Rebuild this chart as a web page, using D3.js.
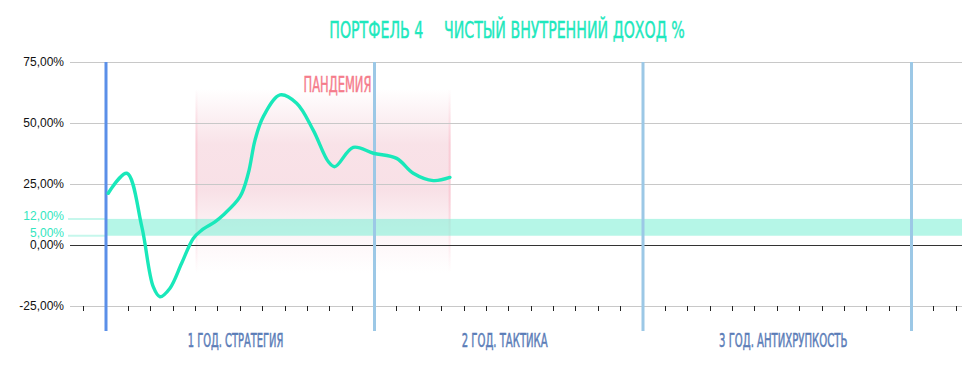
<!DOCTYPE html>
<html><head><meta charset="utf-8">
<script src="https://cdn.jsdelivr.net/npm/d3@7"></script>
<style>body{margin:0;background:#fff}svg{display:block}</style>
</head><body>
<svg id="c" width="962" height="371"></svg>
<script>
// ---- data ----
const months = [0.10,0.93,1.60,2.11,2.41,2.86,3.38,3.90,4.28,4.87,5.24,5.99,6.36,6.66,7.03,7.78,8.52,9.26,9.94,10.23,11.05,11.95,12.99,13.73,14.63,15.37];
const values = [21.2,29.4,7.5,-17.1,-21.2,-17.7,-7.5,2.7,6.1,9.5,12.3,19.8,29.4,43.0,52.6,61.5,58.1,47.1,34.1,32.1,40.0,37.6,35.5,29.4,26.4,27.7];
const yTicks = [75, 50, 25, 0, -25];
const yTickLabels = ["75,00%", "50,00%", "25,00%", "0,00%", "-25,00%"];
const bandEdges = [10.7, 3.8];
const bandLabels = ["12,00%", "5,00%"];
const yearBounds = [0, 12, 24, 36];
const yearLabels = ["1 ГОД. СТРАТЕГИЯ", "2 ГОД. ТАКТИКА", "3 ГОД. АНТИХРУПКОСТЬ"];
const pandemicMonths = [4, 15.4];
const pandemicValues = [64, -11.5];
const pandemicLabel = "ПАНДЕМИЯ";
const titleParts = ["ПОРТФЕЛЬ 4", "ЧИСТЫЙ ВНУТРЕННИЙ ДОХОД %"];
const monthTicks = d3.range(-1, 39);

// ---- scales ----
const svg = d3.select("#c");
const x = d3.scaleLinear().domain([0, 12]).range([106, 374.5]);
const y = d3.scaleLinear().domain([0, 25]).range([245, 184]);
const left = 70, right = 962;
const cond = "'DejaVu Sans Condensed','Liberation Sans Narrow',sans-serif";

// condensed display text fitted to a width and cap height
function fitText(txt, x0, baseline, w, capH, color) {
  const g = svg.append("g");
  const t = g.append("text").attr("x",0).attr("y",0).attr("font-family",cond)
    .attr("font-size",20).attr("fill",color).attr("stroke",color).attr("stroke-width",0.3).text(txt);
  const w0 = t.node().getComputedTextLength();
  const f = 20 * w / w0;
  t.attr("font-size", f);
  const sy = capH / (0.73 * f);
  g.attr("transform", `translate(${x0},${baseline}) scale(1,${sy})`);
  return g;
}

// defs
const defs = svg.append("defs");
const g1 = defs.append("linearGradient").attr("id","pg").attr("x1",0).attr("y1",0).attr("x2",0).attr("y2",1);
[[0,0],[0.3,0.7],[0.55,0.75],[0.78,0.25],[1,0]].forEach(([o,a])=>g1.append("stop").attr("offset",o).attr("stop-color","#f6d6de").attr("stop-opacity",a));
const g2 = defs.append("linearGradient").attr("id","pe").attr("x1",0).attr("y1",0).attr("x2",0).attr("y2",1);
[[0,0],[0.3,0.5],[0.6,0.5],[1,0]].forEach(([o,a])=>g2.append("stop").attr("offset",o).attr("stop-color","#fbb8c6").attr("stop-opacity",a));

// pandemic area
const px0 = x(pandemicMonths[0]), px1 = x(pandemicMonths[1]);
const py0 = y(pandemicValues[0]), py1 = y(pandemicValues[1]);
svg.append("rect").attr("x",px0).attr("y",py0).attr("width",px1-px0).attr("height",py1-py0).attr("fill","url(#pg)");
svg.append("rect").attr("x",px0).attr("y",py0).attr("width",2).attr("height",py1-py0).attr("fill","url(#pe)");
svg.append("rect").attr("x",px1-2).attr("y",py0).attr("width",2).attr("height",py1-py0).attr("fill","url(#pe)");

// gridlines
svg.append("g").selectAll("line").data(yTicks).join("line")
  .attr("x1",left).attr("x2",right).attr("y1",d=>y(d)).attr("y2",d=>y(d))
  .attr("stroke",d=>d===0?"#333":"#c8c8c8").attr("stroke-width",1).attr("shape-rendering","crispEdges");

// band
svg.append("rect").attr("x",x(0)).attr("y",y(bandEdges[0])).attr("width",right-x(0))
  .attr("height",y(bandEdges[1])-y(bandEdges[0])).attr("fill","#7ff0d6").attr("opacity",0.58);
svg.append("g").selectAll("line").data(bandEdges).join("line")
  .attr("x1",left-2).attr("x2",x(0)).attr("y1",d=>y(d)).attr("y2",d=>y(d))
  .attr("stroke","#c6f7ec").attr("stroke-width",2);

// month ticks
svg.append("g").selectAll("line").data(monthTicks).join("line")
  .attr("x1",d=>x(d)).attr("x2",d=>x(d)).attr("y1",y(-25)).attr("y2",y(-25)+5)
  .attr("stroke","#222").attr("stroke-width",1).attr("shape-rendering","crispEdges");

// y labels
svg.append("g").selectAll("text").data(yTicks).join("text")
  .attr("x",64).attr("y",d=>y(d)).attr("dy","0.35em").attr("text-anchor","end")
  .attr("font-family","'Liberation Sans',Arial,sans-serif").attr("font-size",12).attr("fill","#111")
  .text((d,i)=>yTickLabels[i]);
svg.append("g").selectAll("text").data(bandEdges).join("text")
  .attr("x",64).attr("y",d=>y(d)+1).attr("text-anchor","end")
  .attr("font-family","'Liberation Sans',Arial,sans-serif").attr("font-size",12).attr("fill","#33e6c0")
  .text((d,i)=>bandLabels[i]);

// year lines
svg.append("g").selectAll("line").data(yearBounds).join("line")
  .attr("x1",d=>x(d)).attr("x2",d=>x(d)).attr("y1",y(75)).attr("y2",331)
  .attr("stroke",(d,i)=>i===0?"#5b8fe8":"#9cc8e6").attr("stroke-width",3);

// curve
const line = d3.line().x((d,i)=>x(months[i])).y(d=>y(d)).curve(d3.curveCatmullRom.alpha(0.5));
svg.append("path").attr("d",line(values)).attr("fill","none").attr("stroke","#19e8ba").attr("stroke-width",3.4).attr("stroke-linecap","round");

// pandemic label
fitText(pandemicLabel, x(pandemicMonths[0]) + 108, 91.6, 68, 15, "#f57c8c");

// year labels
const yearW = [95.6, 86, 128.4];
yearLabels.forEach((d,i)=>{
  const cx = (x(yearBounds[i]) + x(yearBounds[i+1]))/2 + [-4.7,-4,6][i];
  fitText(d, cx - yearW[i]/2, 347.3, yearW[i], 14, "#5b7db8");
});

// title
const tX = [329.3, 444], tW = [94, 241];
titleParts.forEach((d,i)=>fitText(d, tX[i], 38.3, tW[i], 16.6, "#1ee8bd"));
</script>
</body></html>
